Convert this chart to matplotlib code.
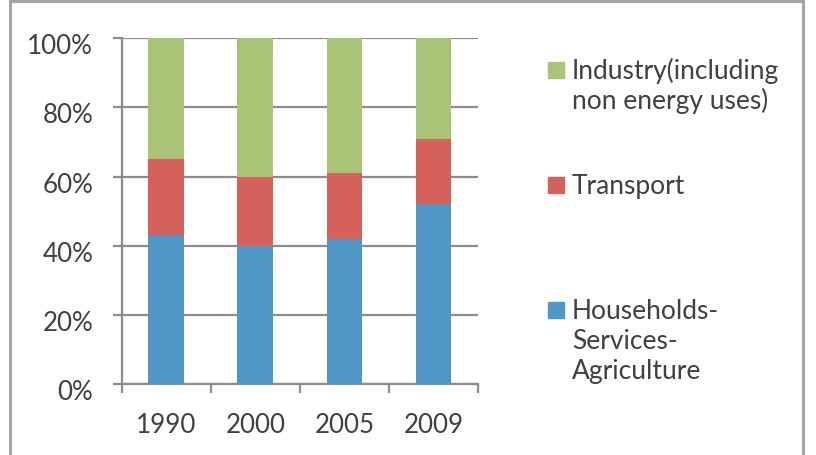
import matplotlib.pyplot as plt
import matplotlib.transforms as mtransforms
from matplotlib.patches import Rectangle
import numpy as np

# datos (porcentaje del consumo final por sector)
years = ["1990", "2000", "2005", "2009"]
households = [43, 40, 42, 52]
transport = [22, 20, 19, 19]
industry = [35, 40, 39, 29]

labels = [
    ["Industry(including", "non energy uses)"],
    ["Transport"],
    ["Households-", "Services-", "Agriculture"],
]

c_blue = "#5096c7"
c_red = "#d4615c"
c_green = "#a9c476"
c_grid = "#8c8c8c"
c_text = "#404040"

plt.rcParams["font.family"] = ["Lato", "DejaVu Sans"]

fig = plt.figure(figsize=(8.16, 4.56), dpi=100)
ax = fig.add_axes([0.149, 0.1557, 0.437, 0.758])

x = np.arange(len(years))
bottom_red = np.array(households)
bottom_green = bottom_red + np.array(transport)
ax.bar(x, households, width=0.4, color=c_blue, zorder=3)
ax.bar(x, transport, width=0.4, bottom=bottom_red, color=c_red, zorder=3)
ax.bar(x, industry, width=0.4, bottom=bottom_green, color=c_green, zorder=3)

ax.set_xlim(-0.5, 3.5)
ax.set_ylim(0, 100)
ax.set_yticks(range(0, 101, 20))
ax.set_yticklabels([f"{v}%" for v in range(0, 101, 20)])
ax.set_xticks(x)
ax.set_xticklabels(years)
ax.set_xticks(np.arange(-0.5, 4, 1), minor=True)

ax.yaxis.grid(True, color=c_grid, linewidth=1.6, zorder=1)
for s in ["top", "right"]:
    ax.spines[s].set_visible(False)
for s in ["left", "bottom"]:
    ax.spines[s].set_color(c_grid)
    ax.spines[s].set_linewidth(1.6)

ax.tick_params(axis="y", direction="out", length=6.5, width=1.6, color=c_grid,
               pad=14, labelsize=18.7, labelcolor=c_text)
ax.tick_params(axis="x", which="major", length=0, pad=20, labelsize=18.7, labelcolor=c_text)
ax.tick_params(axis="x", which="minor", direction="out", length=6.5, width=1.6, color=c_grid)

# bajar un poco las etiquetas del eje y
off = mtransforms.ScaledTranslation(0, -5 / 100, fig.dpi_scale_trans)
for lab in ax.get_yticklabels():
    lab.set_transform(lab.get_transform() + off)

# leyenda manual (cuadro alineado con la primera linea)
W, H = 816, 456
colors = [c_green, c_red, c_blue]
baselines = [79, 194, 319]
for col, lines, base in zip(colors, labels, baselines):
    fig.add_artist(Rectangle((548 / W, 1 - base / H), 16 / W, 16 / H,
                             transform=fig.transFigure, color=col))
    for k, line in enumerate(lines):
        fig.text(572 / W, 1 - (base + 30 * k) / H, line, fontsize=19,
                 color=c_text, va="baseline", ha="left")

# borde del grafico
fig.add_artist(Rectangle((10 / W, -0.05), 793 / W, 1.05 - 2 / H,
                         transform=fig.transFigure, fill=False,
                         edgecolor="#a5a5a5", linewidth=2.2))

fig.savefig("out.png", dpi=100)
